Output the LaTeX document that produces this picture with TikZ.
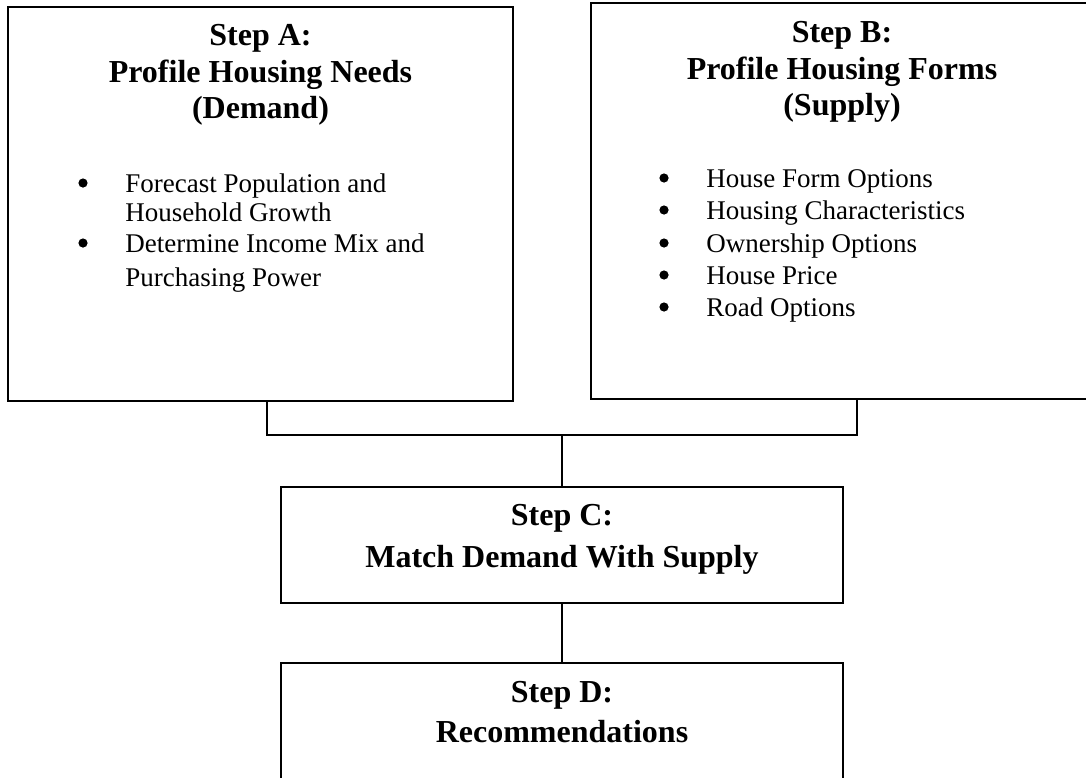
\documentclass[tikz,border=0pt]{standalone}
\usepackage{fontspec}
\setmainfont{Liberation Serif}
\usetikzlibrary{calc}
\newcommand{\steptitle}[4]{\node[steptext] (#1) at ( #2 , #3 ) {#4};}
\newcommand{\bitem}[4]{\node[bulletdot] (#1dot) at ( #2 , #3 - 9 ) {}; \node[itemtext] (#1) at ( #2 + 42 , #3 ) {#4};}
\newcommand{\bline}[4]{\node[itemtext] (#1) at ( #2 , #3 ) {#4};}
\tikzset{
  stepbox/.style={draw, line width=0.75pt, inner sep=0pt},
  steptext/.style={anchor=base, inner sep=0pt, font=\fontsize{16}{18}\bfseries},
  itemtext/.style={anchor=base west, inner sep=0pt, font=\fontsize{13.5}{16}\selectfont},
  bulletdot/.style={circle, fill, draw=none, inner sep=0pt, minimum size=4.6pt},
  joinline/.style={line width=0.75pt}
}
\begin{document}
\begin{tikzpicture}[x=0.5pt,y=-0.5pt]
        \useasboundingbox (0,0) rectangle (1086,777);
        % boxes
        \node[stepbox, minimum width=252.5pt, minimum height=197pt] (boxA) at (260.5,204) {};
        \node[stepbox, minimum width=256pt, minimum height=198pt] (boxB) at (847,201) {};
        \node[stepbox, minimum width=281pt, minimum height=58pt] (boxC) at (562,545) {};
        \node[stepbox, minimum width=281pt, minimum height=58pt] (boxD) at (562,721) {};
        % step A
        \steptitle{tA1}{260.5}{45}{Step A:}
        \steptitle{tA2}{260.5}{82}{Profile Housing Needs}
        \steptitle{tA3}{260.5}{118}{(Demand)}
        \bitem{a1}{83}{192}{Forecast Population and}
        \bline{a1b}{125}{221}{Household Growth}
        \bitem{a2}{83}{252}{Determine Income Mix and}
        \bline{a2b}{125}{286}{Purchasing Power}
        % step B
        \steptitle{tB1}{842}{42}{Step B:}
        \steptitle{tB2}{842}{79}{Profile Housing Forms}
        \steptitle{tB3}{842}{115}{(Supply)}
        \bitem{b1}{664}{187}{House Form Options}
        \bitem{b2}{664}{219}{Housing Characteristics}
        \bitem{b3}{664}{252}{Ownership Options}
        \bitem{b4}{664}{284}{House Price}
        \bitem{b5}{664}{316}{Road Options}
        % step C and D
        \steptitle{tC1}{562}{525}{Step C:}
        \steptitle{tC2}{562}{567}{Match Demand With Supply}
        \steptitle{tD1}{562}{702}{Step D:}
        \steptitle{tD2}{562}{742}{Recommendations}
        % connectors
        \coordinate (join) at (562,435);
        \draw[joinline] ($(boxA.south)+(6.5,0)$) |- (join) -| ($(boxB.south)+(10,0)$);
        \draw[joinline] (join) -- (boxC.north);
        \draw[joinline] (boxC.south) -- (boxD.north);
\end{tikzpicture}
\end{document}
